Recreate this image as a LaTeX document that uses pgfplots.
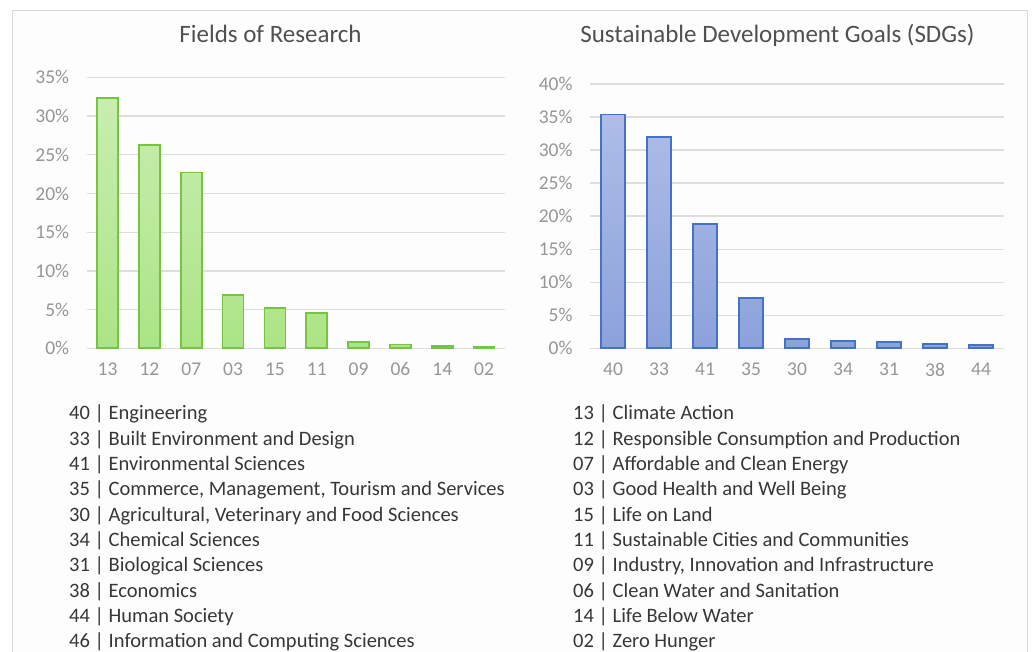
\documentclass[border=0pt]{standalone}
\usepackage{pgfplots}
\pgfplotsset{compat=1.18}
\usepackage{fontspec}
\setmainfont{Carlito}
\definecolor{tickgray}{RGB}{150,150,150}
\definecolor{gridgray}{RGB}{222,222,222}
\definecolor{framegray}{RGB}{215,215,215}
\definecolor{titlegray}{RGB}{80,80,80}
\definecolor{legendgray}{RGB}{55,55,55}
\definecolor{greenedge}{RGB}{118,196,66}
\definecolor{greentop}{RGB}{200,238,176}
\definecolor{greenbot}{RGB}{172,228,134}
\definecolor{blueedge}{RGB}{68,114,196}
\definecolor{bluetop}{RGB}{174,189,232}
\definecolor{bluebot}{RGB}{140,162,219}
\pgfplotsset{
  mybars/.style={
    scale only axis,
    ymin=0,
    axis lines*=left,
    axis line style={draw=none},
    ymajorgrids,
    grid style={gridgray, line width=1.3pt},
    major tick length=0pt,
    tick label style={font=\fontsize{19.5}{19.5}\selectfont, text=tickgray},
    /pgf/number format/assume math mode=true,
    yticklabel={\pgfmathprintnumber{\tick}\%},
    yticklabel style={xshift=-14pt},
    xticklabel style={yshift=-11pt},
    xtick={0,...,9},
    ybar,
    clip=false,
  }
}
\begin{document}
\begin{tikzpicture}[x=1pt,y=1pt]
\path[use as bounding box] (0,0) rectangle (1032,652);
\clip (0,0) rectangle (1032,652);
\fill[white] (0,0) rectangle (1032,652);
\draw[framegray, line width=1pt, fill={rgb,255:red,253;green,253;blue,253}] (12,-10) rectangle (1027,641);

\node[anchor=base, inner sep=0pt, text=titlegray, font=\fontsize{25}{25}\selectfont] at (270.5,609) {Fields of Research};
\node[anchor=base, inner sep=0pt, text=titlegray, font=\fontsize{25}{25}\selectfont] at (777.5,609) {Sustainable Development Goals (SDGs)};

\begin{axis}[mybars,
  at={(86.7pt,303.7pt)}, anchor=south west,
  width=418.3pt, height=271pt,
  xmin=-0.5, xmax=9.5, ymax=35,
  ytick={0,5,...,35},
  xticklabels={13,12,07,03,15,11,09,06,14,02},
  bar width=21pt,
]
\addplot[draw=greenedge, line width=1.7pt, top color=greentop, bottom color=greenbot]
coordinates {(0,32.3) (1,26.3) (2,22.7) (3,6.9) (4,5.2) (5,4.56) (6,0.8) (7,0.5) (8,0.26) (9,0.15)};
\end{axis}

\begin{axis}[mybars,
  at={(590pt,303.7pt)}, anchor=south west,
  width=414pt, height=264.3pt,
  xmin=-0.5, xmax=8.5, ymax=40,
  ytick={0,5,...,40},
  xtick={0,...,8},
  xticklabels={40,33,41,35,30,34,31,38,44},
  bar width=23.5pt,
]
\addplot[draw=blueedge, line width=1.7pt, top color=bluetop, bottom color=bluebot]
coordinates {(0,35.4) (1,32.0) (2,18.8) (3,7.56) (4,1.41) (5,1.1) (6,0.9) (7,0.65) (8,0.55)};
\end{axis}

\begin{scope}[every node/.style={anchor=base west, inner sep=0pt, text=legendgray, font=\fontsize{20.5}{25}\selectfont}]
\node at (69,{652-420}) {40 | Engineering};
\node at (69,{652-445.3}) {33 | Built Environment and Design};
\node at (69,{652-470.7}) {41 | Environmental Sciences};
\node at (69,{652-496}) {35 | Commerce, Management, Tourism and Services};
\node at (69,{652-521.3}) {30 | Agricultural, Veterinary and Food Sciences};
\node at (69,{652-546.7}) {34 | Chemical Sciences};
\node at (69,{652-572}) {31 | Biological Sciences};
\node at (69,{652-597.3}) {38 | Economics};
\node at (69,{652-622.7}) {44 | Human Society};
\node at (69,{652-648}) {46 | Information and Computing Sciences};
\node at (573,{652-420}) {13 | Climate Action};
\node at (573,{652-445.3}) {12 | Responsible Consumption and Production};
\node at (573,{652-470.7}) {07 | Affordable and Clean Energy};
\node at (573,{652-496}) {03 | Good Health and Well Being};
\node at (573,{652-521.3}) {15 | Life on Land};
\node at (573,{652-546.7}) {11 | Sustainable Cities and Communities};
\node at (573,{652-572}) {09 | Industry, Innovation and Infrastructure};
\node at (573,{652-597.3}) {06 | Clean Water and Sanitation};
\node at (573,{652-622.7}) {14 | Life Below Water};
\node at (573,{652-648}) {02 | Zero Hunger};
\end{scope}
\end{tikzpicture}
\end{document}
